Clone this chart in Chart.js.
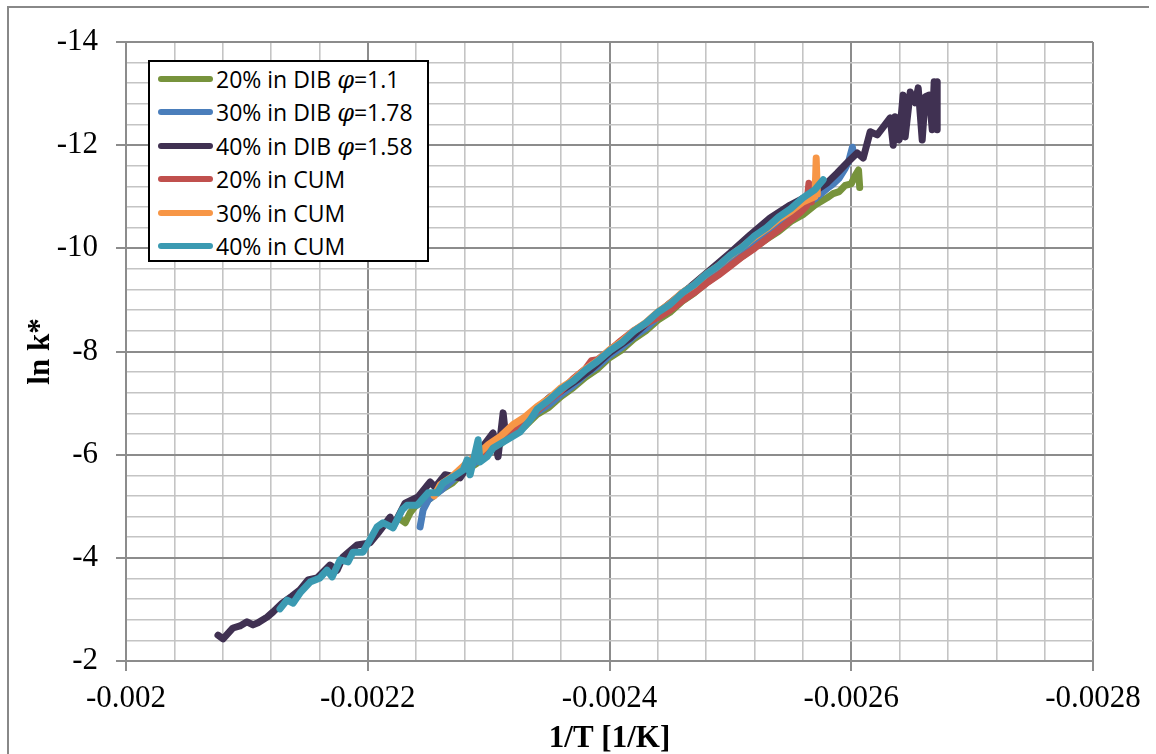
<!DOCTYPE html>
<html>
<head>
<meta charset="utf-8">
<title>ln k* vs 1/T</title>
<script src="https://cdn.jsdelivr.net/npm/chart.js@4.4.1/dist/chart.umd.min.js"></script>
<style>
  body { margin: 0; background: #fff; }
  #wrap { position: relative; width: 1156px; height: 754px; overflow: hidden; }
  #frame { position: absolute; left: 7px; top: 6px; width: 1140px; height: 800px;
           border-left: 2px solid #888; border-top: 2px solid #888; }
  #lnChart { position: absolute; left: 0; top: 0; }
  #legend { position: absolute; left: 148px; top: 60px; width: 281px; height: 202px;
            box-sizing: border-box; border: 2px solid #000; background: #fff;
            font-family: 'Open Sans', sans-serif; font-size: 23px; color: #000; overflow: hidden; }
  .item { height: 33.5px; display: flex; align-items: center; padding-left: 8px; white-space: nowrap; }
  .swatch { width: 55px; height: 6px; border-radius: 3px; margin-right: 3px; flex: none; }
  .item i { font-family: 'DejaVu Serif', serif; font-size: 24px; }
</style>
</head>
<body>
<div id="wrap">
  <div id="frame"></div>
  <canvas id="lnChart" width="1156" height="754"></canvas>
  <div id="legend"></div>
</div>
<script>
// Series names and colours
const seriesNames = ['20% in DIB φ=1.1', '30% in DIB φ=1.78', '40% in DIB φ=1.58',
                     '20% in CUM', '30% in CUM', '40% in CUM'];
const seriesColors = ['#77933c', '#4a7ebb', '#403152', '#c0504d', '#f79646', '#3b9ab2'];

// Axis ranges and ticks
const xTickLabels = ['-0.002', '-0.0022', '-0.0024', '-0.0026', '-0.0028'];
const yTickLabels = ['-2', '-4', '-6', '-8', '-10', '-12', '-14'];

// [1/T, ln k*] pairs for each run
const dib20 = [
  [-0.002228, -4.73], [-0.002231, -4.68], [-0.002235, -4.87], [-0.002240, -5.02],
  [-0.002250, -5.12], [-0.002260, -5.31], [-0.002270, -5.45], [-0.002280, -5.68],
  [-0.002290, -5.83], [-0.002300, -6.05], [-0.002310, -6.21], [-0.002320, -6.43],
  [-0.002330, -6.55], [-0.002340, -6.78], [-0.002350, -6.92], [-0.002360, -7.13],
  [-0.002370, -7.30], [-0.002380, -7.50], [-0.002390, -7.66], [-0.002400, -7.88],
  [-0.002410, -8.03], [-0.002420, -8.24], [-0.002430, -8.40], [-0.002440, -8.61],
  [-0.002450, -8.76], [-0.002460, -8.97], [-0.002470, -9.13], [-0.002480, -9.33],
  [-0.002490, -9.50], [-0.002500, -9.68], [-0.002510, -9.85], [-0.002520, -10.02],
  [-0.002530, -10.18], [-0.002540, -10.33], [-0.002550, -10.52], [-0.002560, -10.65],
  [-0.002570, -10.84], [-0.002580, -10.98], [-0.002585, -11.06], [-0.002590, -11.10],
  [-0.002595, -11.22], [-0.002600, -11.25], [-0.002603, -11.40], [-0.002606, -11.52],
  [-0.002607, -11.18]
];

const dib30 = [
  [-0.0022433, -4.60], [-0.0022458, -4.93], [-0.002250, -5.12], [-0.002260, -5.30],
  [-0.002270, -5.50], [-0.002280, -5.70], [-0.002290, -5.87], [-0.002300, -6.08],
  [-0.002310, -6.24], [-0.002320, -6.46], [-0.002330, -6.60], [-0.002340, -6.82],
  [-0.002350, -6.97], [-0.002360, -7.17], [-0.002370, -7.34], [-0.002380, -7.55],
  [-0.002390, -7.71], [-0.002400, -7.92], [-0.002410, -8.08], [-0.002420, -8.29],
  [-0.002430, -8.45], [-0.002440, -8.66], [-0.002450, -8.82], [-0.002460, -9.02],
  [-0.002470, -9.19], [-0.002480, -9.39], [-0.002490, -9.56], [-0.002500, -9.75],
  [-0.002510, -9.92], [-0.002520, -10.11], [-0.002530, -10.27], [-0.002540, -10.46],
  [-0.002550, -10.62], [-0.002560, -10.82], [-0.002570, -10.96], [-0.002580, -11.16],
  [-0.002585, -11.25], [-0.002590, -11.36], [-0.002595, -11.55], [-0.002598, -11.70],
  [-0.002601, -11.96], [-0.002602, -11.80]
];

const dib40 = [
  [-0.0020761, -2.50], [-0.0020803, -2.43], [-0.0020885, -2.64], [-0.0020943, -2.68],
  [-0.0021001, -2.76], [-0.0021051, -2.70], [-0.0021092, -2.74], [-0.0021167, -2.85],
  [-0.0021216, -2.95], [-0.0021291, -3.12], [-0.0021374, -3.26], [-0.0021440, -3.38],
  [-0.0021506, -3.57], [-0.0021581, -3.61], [-0.0021688, -3.86], [-0.0021746, -3.76],
  [-0.0021796, -4.02], [-0.0021912, -4.25], [-0.0022019, -4.29], [-0.0022085, -4.48],
  [-0.0022185, -4.79], [-0.0022209, -4.60], [-0.0022309, -5.06], [-0.0022416, -5.18],
  [-0.0022516, -5.47], [-0.0022557, -5.37], [-0.0022640, -5.61], [-0.0022764, -5.55],
  [-0.0022847, -5.86], [-0.0022929, -6.09], [-0.0023037, -6.42], [-0.0023078, -5.96],
  [-0.0023120, -6.81], [-0.0023144, -6.29], [-0.0023260, -6.58], [-0.0023384, -6.87],
  [-0.0023509, -7.12], [-0.0023591, -7.22], [-0.0023732, -7.45], [-0.0023840, -7.64],
  [-0.0023997, -7.97], [-0.0024171, -8.26], [-0.0024336, -8.61], [-0.0024502, -8.94],
  [-0.0024667, -9.25], [-0.0024833, -9.58], [-0.0024998, -9.91], [-0.0025164, -10.26],
  [-0.0025329, -10.59], [-0.0025495, -10.84], [-0.0025660, -11.04], [-0.0025801, -11.27],
  [-0.0025884, -11.46], [-0.0025966, -11.66], [-0.0026049, -11.85], [-0.0026099, -11.75],
  [-0.0026157, -12.26], [-0.0026215, -12.20], [-0.0026264, -12.35], [-0.0026322, -12.53],
  [-0.0026347, -12.00], [-0.0026363, -12.55], [-0.0026396, -12.10], [-0.0026429, -12.97],
  [-0.0026446, -12.16], [-0.0026488, -13.03], [-0.0026529, -12.82], [-0.0026554, -13.11],
  [-0.0026587, -12.10], [-0.0026612, -12.94], [-0.0026645, -12.97], [-0.0026670, -12.30],
  [-0.0026686, -13.23], [-0.0026711, -12.30], [-0.0026711, -13.23]
];

const cum20 = [
  [-0.002290, -5.95], [-0.002300, -6.12], [-0.002310, -6.30], [-0.002320, -6.47],
  [-0.002330, -6.68], [-0.002340, -6.85], [-0.002350, -7.05], [-0.002360, -7.24],
  [-0.002370, -7.47], [-0.002380, -7.66], [-0.002385, -7.82], [-0.002390, -7.84],
  [-0.002400, -8.02], [-0.002410, -8.22], [-0.002420, -8.40], [-0.002430, -8.54],
  [-0.002440, -8.66], [-0.002450, -8.80], [-0.002460, -8.98], [-0.002470, -9.14],
  [-0.002480, -9.32], [-0.002490, -9.48], [-0.002500, -9.66], [-0.002510, -9.84],
  [-0.002520, -10.00], [-0.002530, -10.18], [-0.002540, -10.36], [-0.002550, -10.55],
  [-0.002558, -10.70], [-0.002563, -10.82], [-0.002565, -11.26], [-0.002567, -10.90]
];

const cum30 = [
  [-0.002255, -5.20], [-0.002260, -5.42], [-0.002270, -5.58], [-0.002280, -5.80],
  [-0.002290, -5.99], [-0.002300, -6.20], [-0.002310, -6.36], [-0.002320, -6.58],
  [-0.002330, -6.73], [-0.002340, -6.93], [-0.002350, -7.09], [-0.002360, -7.30],
  [-0.002370, -7.45], [-0.002380, -7.66], [-0.002390, -7.82], [-0.002400, -8.03],
  [-0.002410, -8.19], [-0.002420, -8.40], [-0.002430, -8.56], [-0.002440, -8.77],
  [-0.002450, -8.93], [-0.002460, -9.14], [-0.002470, -9.29], [-0.002480, -9.50],
  [-0.002490, -9.66], [-0.002500, -9.86], [-0.002510, -10.03], [-0.002520, -10.22],
  [-0.002530, -10.38], [-0.002540, -10.57], [-0.002550, -10.72], [-0.002560, -10.90],
  [-0.002566, -10.96], [-0.002570, -11.00], [-0.002571, -11.75], [-0.002572, -11.05]
];

const cum40 = [
  [-0.0021274, -3.01], [-0.0021332, -3.18], [-0.0021382, -3.12], [-0.0021440, -3.32],
  [-0.0021523, -3.53], [-0.0021605, -3.61], [-0.0021663, -3.76], [-0.0021705, -3.63],
  [-0.0021771, -3.96], [-0.0021837, -3.92], [-0.0021878, -4.11], [-0.0021961, -4.11],
  [-0.0022077, -4.60], [-0.0022127, -4.68], [-0.0022209, -4.58], [-0.0022284, -4.93],
  [-0.0022325, -5.02], [-0.0022408, -5.02], [-0.0022499, -5.26], [-0.0022574, -5.26],
  [-0.0022623, -5.45], [-0.0022706, -5.57], [-0.0022789, -5.70], [-0.0022822, -5.90],
  [-0.0022847, -5.61], [-0.0022913, -6.29], [-0.0022929, -5.86], [-0.0022987, -5.96],
  [-0.0023037, -6.13], [-0.0023153, -6.29], [-0.0023260, -6.44], [-0.0023343, -6.67],
  [-0.002340, -6.88], [-0.002350, -7.06], [-0.002360, -7.27], [-0.002370, -7.43],
  [-0.002380, -7.64], [-0.002390, -7.81], [-0.002400, -8.01], [-0.002410, -8.17],
  [-0.002420, -8.39], [-0.002430, -8.55], [-0.002440, -8.76], [-0.002450, -8.91],
  [-0.002460, -9.13], [-0.002470, -9.29], [-0.002480, -9.50], [-0.002490, -9.66],
  [-0.002500, -9.87], [-0.002510, -10.03], [-0.002520, -10.24], [-0.002530, -10.40],
  [-0.002540, -10.61], [-0.002550, -10.77], [-0.002560, -10.98], [-0.002570, -11.14],
  [-0.0025768, -11.33]
];

const seriesData = [dib20, dib30, dib40, cum20, cum30, cum40];

const X_MINOR = 0.00004;
const Y_MINOR = 0.4;

// every fifth grid line is a major one (labelled)
function isMajor(value, origin, step) {
  return Math.round((value - origin) / step) % 5 === 0;
}

const serif = "'Liberation Serif', 'Times New Roman', serif";

// later series are painted over earlier ones
const datasets = seriesData.map((pts, i) => ({
  label: seriesNames[i],
  data: pts.map(p => ({ x: p[0], y: p[1] })),
  order: seriesData.length - 1 - i,
  showLine: true,
  borderColor: seriesColors[i],
  backgroundColor: seriesColors[i],
  borderWidth: 7,
  borderCapStyle: 'round',
  borderJoinStyle: 'round',
  pointRadius: 0,
  tension: 0,
  fill: false
}));

function gridOpts(origin, step) {
  return {
    color: ctx => isMajor(ctx.tick.value, origin, step) ? '#8c8c8c' : '#c4c4c4',
    lineWidth: ctx => isMajor(ctx.tick.value, origin, step) ? 2 : 1.6,
    tickColor: ctx => isMajor(ctx.tick.value, origin, step) ? '#8c8c8c' : 'rgba(0,0,0,0)',
    tickLength: 10
  };
}

const chart = new Chart(document.getElementById('lnChart').getContext('2d'), {
  type: 'scatter',
  data: { datasets: datasets },
  options: {
    responsive: false,
    animation: false,
    layout: { padding: { left: 10, top: 42, right: 63, bottom: 0 } },
    plugins: { legend: { display: false }, tooltip: { enabled: false } },
    scales: {
      x: {
        type: 'linear',
        reverse: true,
        min: -0.0028,
        max: -0.002,
        afterFit: s => { s.height = 93; },
        border: { display: true, color: '#8c8c8c', width: 2 },
        grid: gridOpts(-0.002, X_MINOR),
        ticks: {
          stepSize: X_MINOR,
          autoSkip: false,
          maxRotation: 0,
          padding: 9,
          color: '#000',
          font: { family: serif, size: 31 },
          callback: function(value) {
            if (!isMajor(value, -0.002, X_MINOR)) return '';
            const k = Math.round((value + 0.002) / (X_MINOR * 5));
            return xTickLabels[-k];
          }
        },
        title: {
          display: true,
          text: '1/T [1/K]',
          color: '#000',
          font: { family: serif, size: 31, weight: 'bold', lineHeight: 1 },
          padding: { top: 0, bottom: 0 }
        }
      },
      y: {
        type: 'linear',
        reverse: true,
        min: -14,
        max: -2,
        afterFit: s => { s.width = 116; },
        border: { display: true, color: '#8c8c8c', width: 2 },
        grid: gridOpts(-2, Y_MINOR),
        ticks: {
          stepSize: Y_MINOR,
          autoSkip: false,
          padding: 18,
          color: '#000',
          font: { family: serif, size: 31 },
          callback: function(value) {
            if (!isMajor(value, -2, Y_MINOR)) return '';
            const k = Math.round((value + 2) / (Y_MINOR * 5));
            return yTickLabels[-k];
          }
        },
        title: {
          display: true,
          text: 'ln k*',
          color: '#000',
          font: { family: serif, size: 31, weight: 'bold', lineHeight: 1 },
          padding: { top: 15, bottom: 0 }
        }
      }
    }
  }
});

// Boxed legend drawn over the plot area, built from the chart's datasets
const legendEl = document.getElementById('legend');
seriesNames.forEach((name, i) => {
  const row = document.createElement('div');
  row.className = 'item';
  const sw = document.createElement('span');
  sw.className = 'swatch';
  sw.style.background = seriesColors[i];
  const txt = document.createElement('span');
  txt.innerHTML = name.replace('φ', '<i>φ</i>');
  row.appendChild(sw);
  row.appendChild(txt);
  legendEl.appendChild(row);
});
</script>
</body>
</html>
